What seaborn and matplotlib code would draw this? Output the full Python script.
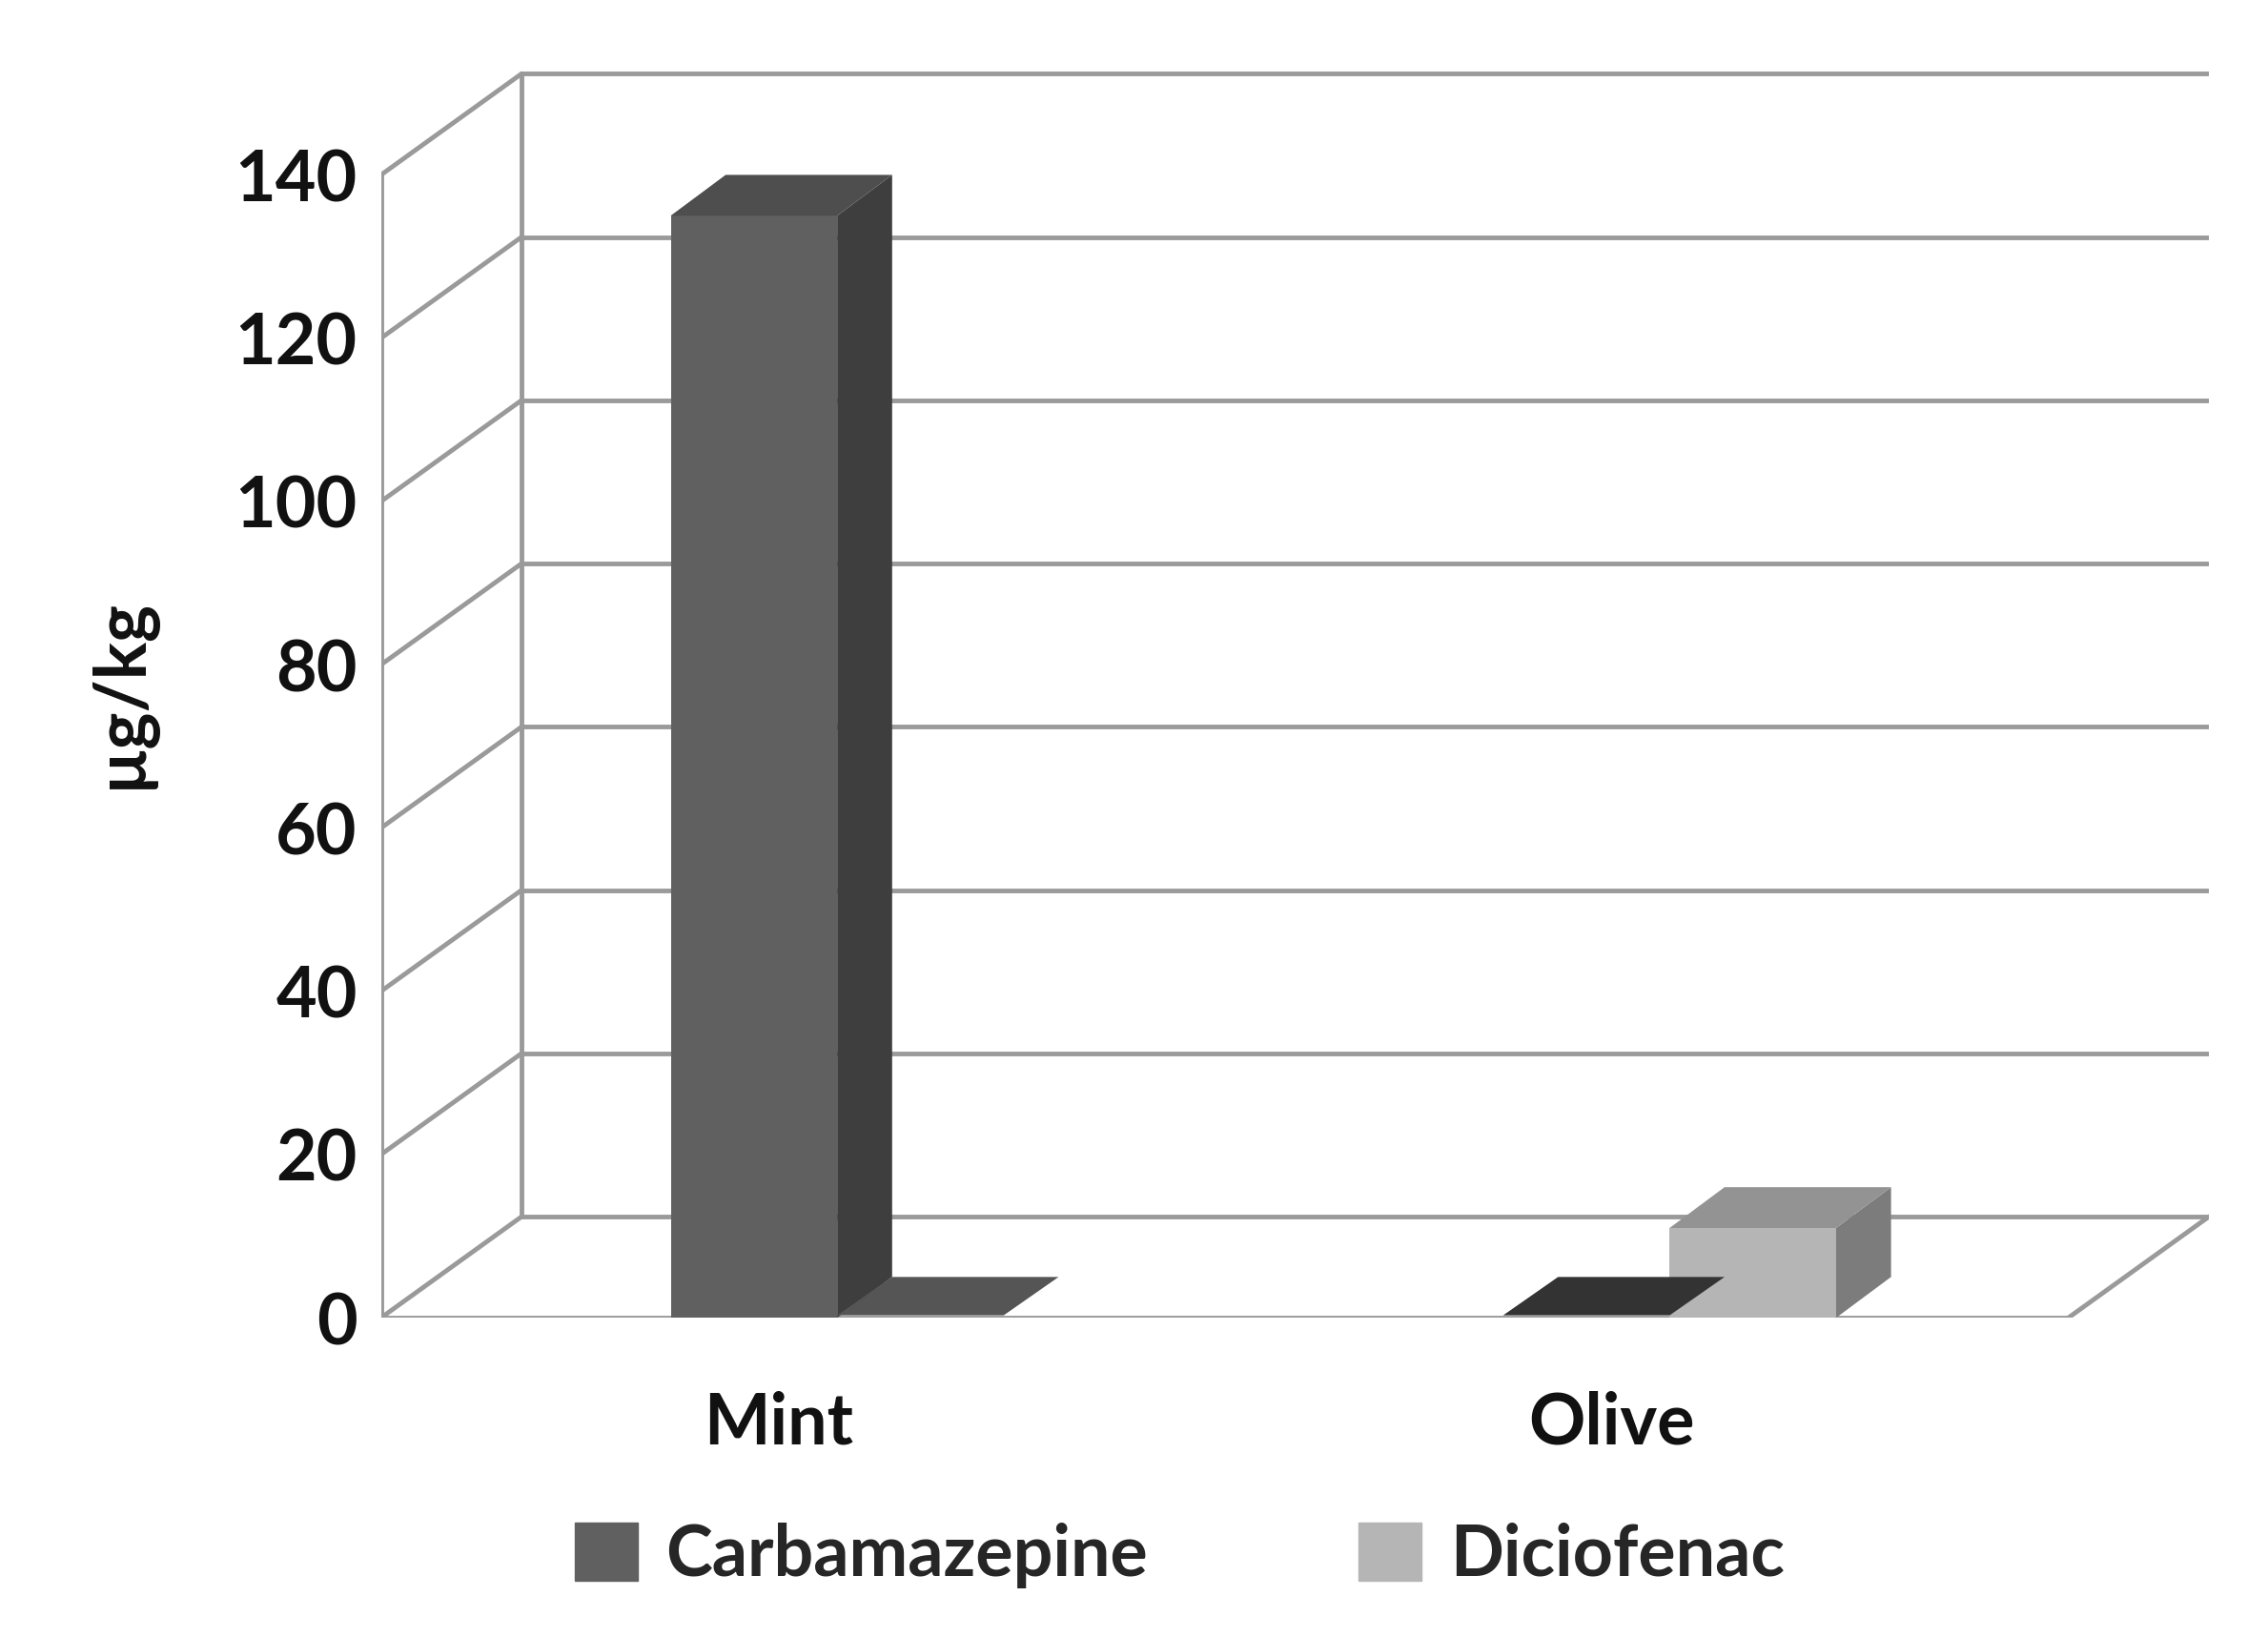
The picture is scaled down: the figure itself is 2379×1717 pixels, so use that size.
import matplotlib
matplotlib.use("Agg")
import matplotlib.pyplot as plt
import seaborn as sns
import pandas as pd
from matplotlib.patches import Polygon, Rectangle

categories = ["Mint", "Olive"]
series = ["Carbamazepine", "Diciofenac"]
carbamazepine = [135, 0]
diclofenac = [0, 11]
yticks = [0, 20, 40, 60, 80, 100, 120, 140]

df = pd.DataFrame({
    "cat": categories * 2,
    "series": [series[0]] * 2 + [series[1]] * 2,
    "val": carbamazepine + diclofenac,
})

sns.set_theme(style="white")
plt.rcParams["font.family"] = ["Lato", "DejaVu Sans"]
fig = plt.figure(figsize=(23.79, 17.17), dpi=100)
ax = fig.add_axes([0.168, 0.195, 0.974 - 0.168, 0.958 - 0.195])

front = {series[0]: "#606060", series[1]: "#b5b5b5"}
side = {series[0]: "#3e3e3e", series[1]: "#7c7c7c"}
top = {series[0]: "#4e4e4e", series[1]: "#939393"}

sns.barplot(data=df, x="cat", y="val", hue="series", order=categories,
            hue_order=series, palette=front, width=0.4, ax=ax, legend=False,
            saturation=1, linewidth=0, zorder=3)

x0, x1 = -0.548, 1.479
DX, DY = 0.169, 12.4
gc = "#9a9a9a"
lw = 3.5
ax.plot([x0, x0], [0, 140], color=gc, lw=lw, zorder=1)
ax.plot([x0 + DX, x0 + DX], [DY, 140 + DY], color=gc, lw=lw, zorder=1)
for t in yticks:
    ax.plot([x0, x0 + DX], [t, t + DY], color=gc, lw=lw, zorder=1)
    ax.plot([x0 + DX, x1 + DX], [t + DY, t + DY], color=gc, lw=lw, zorder=1)
    ax.plot([x0 - 0.02, x0], [t, t], color=gc, lw=lw, zorder=1)
ax.plot([x0, x1], [0, 0], color=gc, lw=lw, zorder=1)
ax.plot([x1, x1 + DX], [0, DY], color=gc, lw=lw, zorder=1)

bdx, bdy = 0.066, 5.0
patches = [p for p in ax.patches if isinstance(p, Rectangle)]
for i, p in enumerate(patches):
    s = series[i // 2]
    x, w, h = p.get_x(), p.get_width(), p.get_height()
    if h > 0:
        ax.add_patch(Polygon([(x + w, 0), (x + w + bdx, bdy), (x + w + bdx, h + bdy), (x + w, h)],
                             closed=True, color=side[s], lw=0, zorder=3))
        ax.add_patch(Polygon([(x, h), (x + w, h), (x + w + bdx, h + bdy), (x + bdx, h + bdy)],
                             closed=True, color=top[s], lw=0, zorder=3))
    else:
        ax.add_patch(Polygon([(x, 0.3), (x + w, 0.3), (x + w + bdx, bdy), (x + bdx, bdy)],
                             closed=True, color="#333333" if i == 1 else "#555555",
                             lw=0, zorder=3))

ax.set_xlim(x0, x1 + DX)
ax.set_ylim(0, 153)
for sp in ax.spines.values():
    sp.set_visible(False)
ax.set_yticks(yticks)
ax.set_yticklabels([str(t) for t in yticks], fontsize=53, fontweight="bold", color="#111111")
ax.tick_params(axis="y", length=0, pad=18)
ax.set_xticks([-0.07, 0.93])
ax.set_xticklabels(categories, fontsize=53, fontweight="bold", color="#111111")
ax.tick_params(axis="x", length=0, pad=55)
ax.set_xlabel("")
ax.set_ylabel("µg/kg", fontsize=53, fontweight="bold", color="#111111", labelpad=60)
ax.grid(False)

handles = [Rectangle((0, 0), 1, 1, color=front[s]) for s in series]
fig.legend(handles, series, loc="center", bbox_to_anchor=(0.52, 0.05), ncol=2, frameon=False,
           prop={"size": 53, "weight": "bold"}, handlelength=0.9, handleheight=0.9,
           columnspacing=3.0, handletextpad=0.4)

fig.savefig("out.png", dpi=100)
